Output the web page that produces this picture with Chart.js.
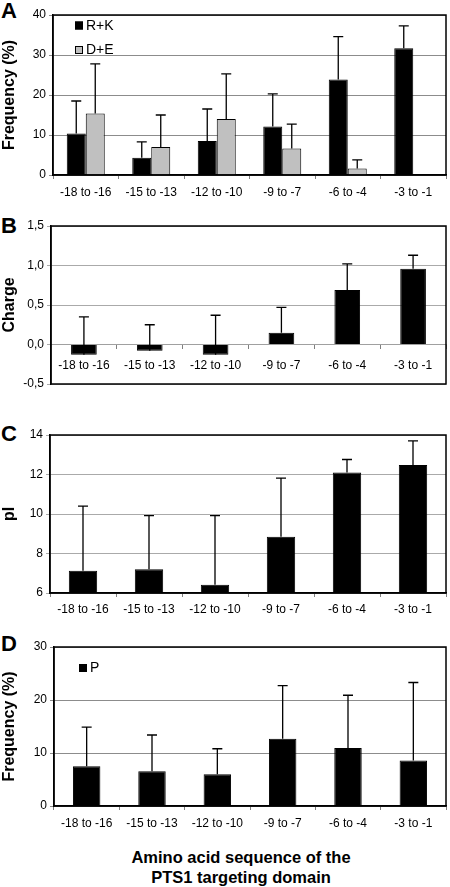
<!DOCTYPE html>
<html>
<head>
<meta charset="utf-8">
<script src="https://cdn.jsdelivr.net/npm/chart.js@4/dist/chart.umd.min.js"></script>
<style>
html,body{margin:0;padding:0;background:#fff;width:450px;height:887px;overflow:hidden;}
.panel{position:absolute;left:0;}
.letter{position:absolute;left:1px;font:bold 22px/22px "Liberation Sans",Arial,sans-serif;color:#000;}
#xtitle{position:absolute;left:41px;width:400px;top:847px;text-align:center;font:bold 16.5px/20px "Liberation Sans",Arial,sans-serif;color:#000;}
</style>
</head>
<body>
<div class="letter" style="top:0px">A</div>
<div class="letter" style="top:215px">B</div>
<div class="letter" style="top:423px">C</div>
<div class="letter" style="top:633px">D</div>
<canvas class="panel" id="cA" width="450" height="205" style="top:0px"></canvas>
<canvas class="panel" id="cB" width="450" height="195" style="top:205px"></canvas>
<canvas class="panel" id="cC" width="450" height="220" style="top:400px"></canvas>
<canvas class="panel" id="cD" width="450" height="210" style="top:620px"></canvas>
<div id="xtitle">Amino acid sequence of the<br>PTS1 targeting domain</div>
<script>
// ---- data ----
const categories = ['-18 to -16', '-15 to -13', '-12 to -10', '-9 to -7', '-6 to -4', '-3 to -1'];

const rkLabel = 'R+K';
const rkFreq = [10.4, 4.3, 8.5, 12.1, 23.9, 31.7];
const rkFreqErrTop = [18.5, 8.3, 16.5, 20.3, 34.6, 37.3];

const deLabel = 'D+E';
const deFreq = [15.4, 7.0, 14.0, 6.6, 1.6, 0];
const deFreqErrTop = [27.8, 15.0, 25.3, 12.7, 3.8, null];

const chargeLabel = 'Charge';
const charge = [-0.13, -0.08, -0.13, 0.15, 0.69, 0.96];
const chargeErrTop = [0.35, 0.25, 0.37, 0.47, 1.02, 1.13];

const pILabel = 'pI';
const pI = [7.13, 7.2, 6.42, 8.85, 12.1, 12.48];
const pIErrTop = [10.4, 9.92, 9.92, 11.82, 12.76, 13.7];

const pLabel = 'P';
const proFreq = [7.5, 6.55, 6.0, 12.7, 10.95, 8.6];
const proFreqErrTop = [14.9, 13.4, 10.8, 22.7, 20.9, 23.3];

const freqTitle = 'Frequency (%)';
const chargeTickLabels = {'-0.5': '-0,5', '0': '0,0', '0.5': '0,5', '1': '1,0', '1.5': '1,5'};

// ---- plugins ----
const FONT = '"Liberation Sans", Arial, sans-serif';

const errorBars = {
  id: 'errorBars',
  afterDatasetsDraw(chart) {
    const ctx = chart.ctx;
    const y = chart.scales.y;
    chart.data.datasets.forEach((ds, di) => {
      if (!ds.errTop) return;
      const meta = chart.getDatasetMeta(di);
      meta.data.forEach((bar, i) => {
        const top = ds.errTop[i];
        if (top === null || top === undefined) return;
        const yTop = y.getPixelForValue(top);
        ctx.save();
        ctx.strokeStyle = '#000';
        ctx.lineWidth = 1.3;
        ctx.beginPath();
        ctx.moveTo(bar.x, bar.y);
        ctx.lineTo(bar.x, yTop);
        ctx.moveTo(bar.x - 5, yTop);
        ctx.lineTo(bar.x + 5, yTop);
        ctx.stroke();
        ctx.restore();
      });
    });
  }
};

const frame = {
  id: 'frame',
  afterDraw(chart) {
    const a = chart.chartArea;
    const ctx = chart.ctx;
    ctx.save();
    ctx.strokeStyle = '#000';
    ctx.lineWidth = 1.5;
    ctx.strokeRect(a.left, a.top, a.right - a.left, a.bottom - a.top);
    ctx.restore();
  }
};

const boxLegend = {
  id: 'boxLegend',
  afterDraw(chart, args, opts) {
    if (!opts || !opts.show) return;
    const a = chart.chartArea;
    const ctx = chart.ctx;
    ctx.save();
    ctx.font = '14px ' + FONT;
    ctx.textBaseline = 'middle';
    chart.data.datasets.forEach((ds, i) => {
      const cy = a.top + opts.dy + i * opts.gap;
      const x0 = a.left + opts.dx;
      ctx.fillStyle = ds.backgroundColor;
      ctx.fillRect(x0, cy - 4, 8, 8);
      ctx.strokeStyle = '#000';
      ctx.lineWidth = 1;
      ctx.strokeRect(x0 + 0.5, cy - 3.5, 7, 7);
      ctx.fillStyle = '#000';
      ctx.fillText(ds.label, x0 + 11, cy + 0.5);
    });
    ctx.restore();
  }
};

Chart.register(errorBars, frame, boxLegend);

function makeChart(id, cfg) {
  const scales = {
    x: {
      type: 'category',
      position: cfg.xPos || 'bottom',
      grid: {offset: true, drawOnChartArea: false, drawTicks: true, tickLength: 4, color: '#808080', lineWidth: 1},
      border: {display: true, color: cfg.xBorderColor || '#000', width: cfg.xBorderWidth || 1.5},
      ticks: {color: '#000', font: {family: FONT, size: 12}, padding: cfg.xPad, maxRotation: 0, autoSkip: false}
    },
    y: {
      min: cfg.min, max: cfg.max,
      ticks: {stepSize: cfg.step, color: '#000', font: {family: FONT, size: 12}, padding: 3,
              callback: cfg.tickCb || (v => String(v))},
      grid: {color: cfg.gridColor || '#999', lineWidth: 1, tickLength: 4, drawTicks: true},
      border: {color: '#000', width: 1.5},
      title: {display: true, text: cfg.title, color: '#000', font: {family: FONT, size: 16, weight: 'bold'}, padding: {top: 0, bottom: 0}},
      afterFit: s => { s.width = cfg.yWidth; }
    }
  };
  if (cfg.xHeight) scales.x.afterFit = s => { s.height = cfg.xHeight; };
  return new Chart(document.getElementById(id), {
    type: 'bar',
    data: {labels: categories, datasets: cfg.datasets},
    options: {
      responsive: false,
      animation: false,
      devicePixelRatio: 1,
      events: [],
      layout: {padding: cfg.padding},
      datasets: {bar: {categoryPercentage: cfg.catPct, barPercentage: 1.0}},
      plugins: {legend: {display: false}, tooltip: {enabled: false}, boxLegend: cfg.legend || {show: false}},
      scales: scales
    }
  });
}

function barDs(label, data, errTop, fill) {
  return {label: label, data: data, errTop: errTop, backgroundColor: fill, borderColor: '#000', borderWidth: 1};
}

// A
makeChart('cA', {
  datasets: [barDs(rkLabel, rkFreq, rkFreqErrTop, '#000'), barDs(deLabel, deFreq, deFreqErrTop, '#c0c0c0')],
  min: 0, max: 40, step: 10, title: freqTitle, yWidth: 53, xHeight: 30, xPad: 6,
  padding: {top: 15, right: 4, left: 0, bottom: 0}, catPct: 0.58, gridColor: '#8c8c8c',
  legend: {show: true, dx: 22, dy: 10.5, gap: 24.5}
});
// B
makeChart('cB', {
  datasets: [barDs(chargeLabel, charge, chargeErrTop, '#000')],
  min: -0.5, max: 1.5, step: 0.5, title: chargeLabel, yWidth: 51, xPos: {y: 0}, xPad: 10,
  xBorderColor: '#a0a0a0', xBorderWidth: 1,
  tickCb: v => chargeTickLabels[String(v)] ?? String(v),
  padding: {top: 21, right: 4, left: 0, bottom: 16}, catPct: 0.39, gridColor: '#aaa'
});
// C
makeChart('cC', {
  datasets: [barDs(pILabel, pI, pIErrTop, '#000')],
  min: 6, max: 14, step: 2, title: pILabel, yWidth: 50, xHeight: 27, xPad: 5,
  padding: {top: 35, right: 4, left: 0, bottom: 0}, catPct: 0.43, gridColor: '#aaa'
});
// D
makeChart('cD', {
  datasets: [barDs(pLabel, proFreq, proFreqErrTop, '#000')],
  min: 0, max: 30, step: 10, title: freqTitle, yWidth: 54, xHeight: 24, xPad: 6,
  padding: {top: 27, right: 4, left: 0, bottom: 0}, catPct: 0.42, gridColor: '#8c8c8c',
  legend: {show: true, dx: 25, dy: 21, gap: 24}
});
</script>
</body>
</html>
